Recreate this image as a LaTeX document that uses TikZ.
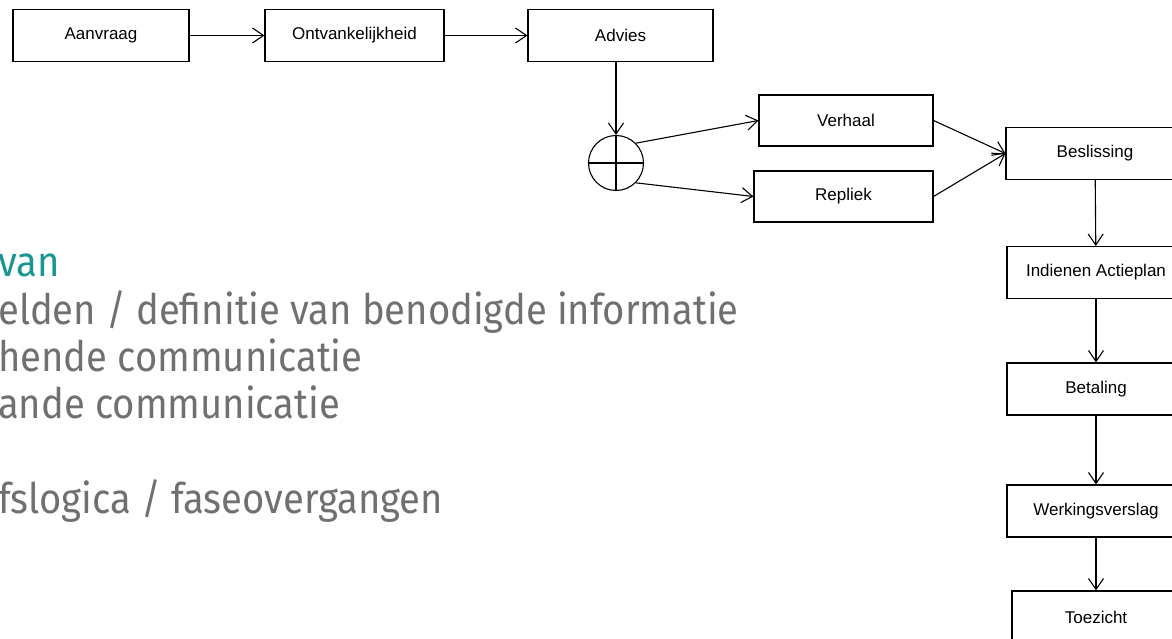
\documentclass[tikz,border=0pt]{standalone}
\usepackage{fontspec}
\setmainfont{Liberation Sans}
\newfontfamily\slidefont[FakeStretch=0.91]{Fira Sans}
\usetikzlibrary{arrows.meta}
\definecolor{slideteal}{RGB}{26,150,146}
\definecolor{slidegrey}{RGB}{112,112,112}

\begin{document}
\begin{tikzpicture}[x=1pt,y=-1pt,
  box/.style={draw,line width=1.1pt,minimum height=52pt,inner sep=0pt,font=\fontsize{17}{20}\selectfont},
  flow/.style={line width=1.1pt,-{Straight Barb[length=11pt,width=15pt]}},
  bullet/.style={anchor=base west,inner sep=0pt,text=slidegrey,font=\slidefont\fontsize{42}{50}\selectfont}]
  \clip (0,0) rectangle (1172,639);

  % top row
  \node[box,minimum width=176pt] (aanvraag) at (101,35.5) {Aanvraag};
  \node[box,minimum width=179pt] (ontvank) at (354.5,35.5) {Ontvankelijkheid};
  \node[box,minimum width=185pt] (advies) at (620.5,35.5) {Advies};
  \draw[flow] (aanvraag) -- (ontvank);
  \draw[flow] (ontvank) -- (advies);

  % split into verhaal / repliek
  \node[draw,circle,line width=1.1pt,minimum size=55pt,inner sep=0pt] (split) at (616,163) {};
  \draw[line width=1.1pt] (split.north) -- (split.south) (split.west) -- (split.east);
  \draw[flow] (advies.south -| split.north) -- (split.north);
  \node[box,minimum width=174pt,minimum height=51pt] (verhaal) at (846,120.5) {Verhaal};
  \node[box,minimum width=179pt,minimum height=51pt] (repliek) at (843.5,196.5) {Repliek};
  \draw[flow] (split.45) -- (verhaal.west);
  \draw[flow] (split.-45) -- (repliek.west);

  % right column
  \node[box,minimum width=178pt] (beslissing) at (1095,153.5) {Beslissing};
  \node[box,minimum width=178pt] (actieplan) at (1096,272.5) {Indienen Actieplan};
  \node[box,minimum width=178pt] (betaling) at (1096,389) {Betaling};
  \node[box,minimum width=178pt] (verslag) at (1096,511) {Werkingsverslag};
  \node[box,minimum width=168pt] (toezicht) at (1096,617) {Toezicht};
  \draw[flow] (verhaal.east) -- (beslissing.west);
  \draw[flow] (repliek.east) -- (beslissing.west);
  \draw[flow] (beslissing) -- (actieplan);
  \draw[flow] (actieplan) -- (betaling);
  \draw[flow] (betaling) -- (verslag);
  \draw[flow] (verslag) -- (toezicht);

  % slide text on the left
  \node[bullet,text=slideteal] (kop) at (-2,276) {van};
  \node[bullet] (velden) at (-2,324) {elden / definitie van benodigde informatie};
  \node[bullet] (inkomend) at (-2,371) {hende communicatie};
  \node[bullet] (uitgaand) at (-2,418) {ande communicatie};
  \node[bullet] (logica) at (-2,513) {fslogica / faseovergangen};
\end{tikzpicture}
\end{document}
